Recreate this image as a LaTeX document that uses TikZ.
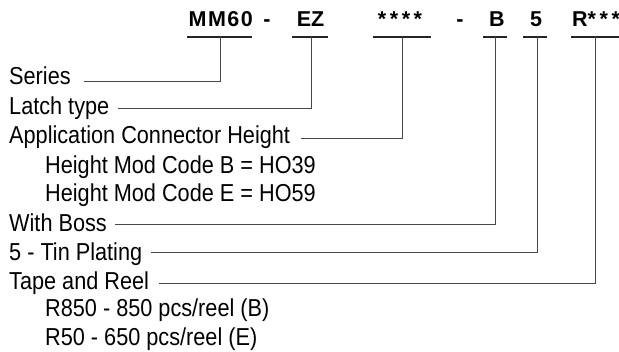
\documentclass[tikz,border=0pt]{standalone}
\usepackage{fontspec}
\setmainfont{Liberation Sans}[FakeStretch=0.885]
\newfontfamily\topfont{Liberation Sans}
\begin{document}
\begin{tikzpicture}[x=1pt,y=-1pt,
  lbl/.style={anchor=base west,inner sep=0pt,font=\fontsize{24.5}{28}\selectfont},
  code/.style={anchor=base,inner sep=0pt,font=\topfont\bfseries\fontsize{21.5}{24}\selectfont},
  uline/.style={line width=1.1pt,draw=black!85},
  conn/.style={line width=0.9pt,draw=black!72}]
\useasboundingbox (0,0) rectangle (619,352);
% top code
\node[code] (mm) at (220,27) {\addfontfeatures{LetterSpace=7}MM60\kern-1.5pt};
\node[code] (d1) at (267,27) {-};
\node[code] (ez) at (310.5,27) {EZ};
\node[code] (st) at (400,27) {*\,*\,*\,*};
\node[code] (d2) at (460,27) {-};
\node[code] (b) at (497,27) {B};
\node[code] (five) at (536,27) {5};
\node[code] (r) at (596,27) {R*\,*\,*};
% underlines
\coordinate (umm) at (220,37);
\coordinate (uez) at (311,37);
\coordinate (ust) at (402,37);
\coordinate (ub) at (495,37);
\coordinate (ufive) at (537,37);
\coordinate (ur) at (595,37);
\draw[uline] (187,37) -- (252,37);
\draw[uline] (292,37) -- (328,37);
\draw[uline] (373,37) -- (431,37);
\draw[uline] (483,37) -- (507,37);
\draw[uline] (523,37) -- (547,37);
\draw[uline] (571,37) -- (619,37);
% left labels
\node[lbl] (ser) at (9,85) {Series};
\node[lbl] (lat) at (9,115) {Latch type};
\node[lbl] (app) at (9,144) {Application Connector Height};
\node[lbl] (hb) at (45,174) {Height Mod Code B = HO39};
\node[lbl] (he) at (45,202) {Height Mod Code E = HO59};
\node[lbl] (bos) at (9,232) {With Boss};
\node[lbl] (tin) at (9,261) {5 - Tin Plating};
\node[lbl] (tap) at (9,290) {Tape and Reel};
\node[lbl] (r850) at (45,317) {R850 - 850 pcs/reel (B)};
\node[lbl] (r50) at (45,346) {R50 - 650 pcs/reel (E)};
% connectors
\draw[conn] (umm) |- ([xshift=13pt,yshift=4pt]ser.base east);
\draw[conn] (uez) |- ([xshift=9pt,yshift=7pt]lat.base east);
\draw[conn] (ust) |- ([xshift=11pt,yshift=6pt]app.base east);
\draw[conn] (ub) |- ([xshift=8pt,yshift=8pt]bos.base east);
\draw[conn] (ufive) |- ([xshift=9pt,yshift=9pt]tin.base east);
\draw[conn] (ur) |- ([xshift=10pt,yshift=7pt]tap.base east);
\end{tikzpicture}
\end{document}
